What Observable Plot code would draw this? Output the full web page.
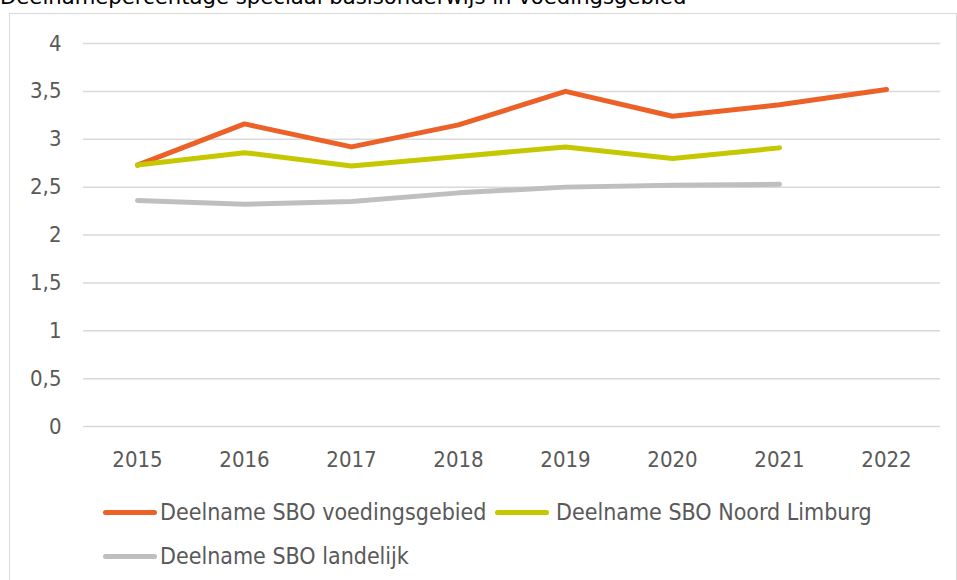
<!DOCTYPE html>
<html><head><meta charset="utf-8">
<script src="https://cdn.jsdelivr.net/npm/d3@7"></script>
<script src="https://cdn.jsdelivr.net/npm/@observablehq/plot@0.6"></script>
<style>
html,body{margin:0;padding:0;width:957px;height:580px;overflow:hidden;background:#fff;}
body{position:relative;font-family:"DejaVu Sans Condensed","Noto Sans",sans-serif;}
#title{position:absolute;left:0;top:-14px;font-size:21.2px;line-height:21px;color:#000;white-space:nowrap;font-family:"DejaVu Sans","Noto Sans",sans-serif;}
#box{position:absolute;left:9px;top:13px;width:946px;height:620px;border:1.5px solid #D9D9D9;}
#chart{position:absolute;left:0;top:0;}
.leg{position:absolute;font-size:23px;color:#595959;white-space:nowrap;line-height:26px;}
.sw{position:absolute;height:5px;border-radius:3px;}
</style></head>
<body>
<div id="title">Deelnamepercentage speciaal basisonderwijs in voedingsgebied</div>
<div id="box"></div>
<div id="chart"></div>
<div id="legend"></div>
<script>
const years = ["2015","2016","2017","2018","2019","2020","2021","2022"];
const voedingsgebied = [2.73, 3.16, 2.92, 3.15, 3.50, 3.24, 3.36, 3.52];
const noordLimburg = [2.73, 2.86, 2.72, 2.82, 2.92, 2.80, 2.91, null];
const landelijk = [2.36, 2.32, 2.35, 2.44, 2.50, 2.52, 2.53, null];
const seriesNames = ["Deelname SBO voedingsgebied","Deelname SBO Noord Limburg","Deelname SBO landelijk"];
const seriesColors = ["#EB6128","#C5C800","#BFBFBF"];
const yTicks = [0,0.5,1,1.5,2,2.5,3,3.5,4];

const allSeries = [voedingsgebied, noordLimburg, landelijk];
const rows = [];
allSeries.forEach((vals, si) => {
  vals.forEach((v, i) => { if (v != null) rows.push({year: years[i], value: v, series: seriesNames[si]}); });
});
const fmt = d => String(d).replace(".", ",");

const chart = Plot.plot({
  width: 957, height: 480,
  marginLeft: 83, marginRight: 17, marginTop: 43, marginBottom: 54,
  style: {fontFamily: '"DejaVu Sans Condensed","Noto Sans",sans-serif', fontSize: "22px", color: "#595959", background: "transparent"},
  x: {type: "point", domain: years, padding: 0.5, label: null},
  y: {domain: [0, 4], ticks: yTicks, label: null},
  color: {domain: seriesNames, range: seriesColors},
  marks: [
    Plot.ruleY(yTicks, {stroke: "#D9D9D9", strokeWidth: 1.5}),
    Plot.axisY({ticks: yTicks, tickFormat: fmt, tickSize: 0, tickPadding: 22, label: null, fill: "#595959"}),
    Plot.axisX({tickSize: 0, tickPadding: 25, label: null, fill: "#595959"}),
    Plot.line(rows, {x: "year", y: "value", z: "series", stroke: "series", strokeWidth: 5, strokeLinecap: "round", strokeLinejoin: "round"})
  ]
});
document.getElementById("chart").appendChild(chart);

const legendPos = [{x:103,y:512,tx:160},{x:495,y:512,tx:556},{x:103,y:556,tx:160}];
const leg = document.getElementById("legend");
seriesNames.forEach((n, i) => {
  const p = legendPos[i];
  const sw = document.createElement("div");
  sw.className = "sw";
  sw.style.left = p.x + "px"; sw.style.top = (p.y - 2.5) + "px"; sw.style.width = "54px";
  sw.style.background = seriesColors[i];
  leg.appendChild(sw);
  const t = document.createElement("div");
  t.className = "leg";
  t.style.left = p.tx + "px"; t.style.top = (p.y - 13) + "px";
  t.textContent = n;
  leg.appendChild(t);
});
</script>
</body></html>
